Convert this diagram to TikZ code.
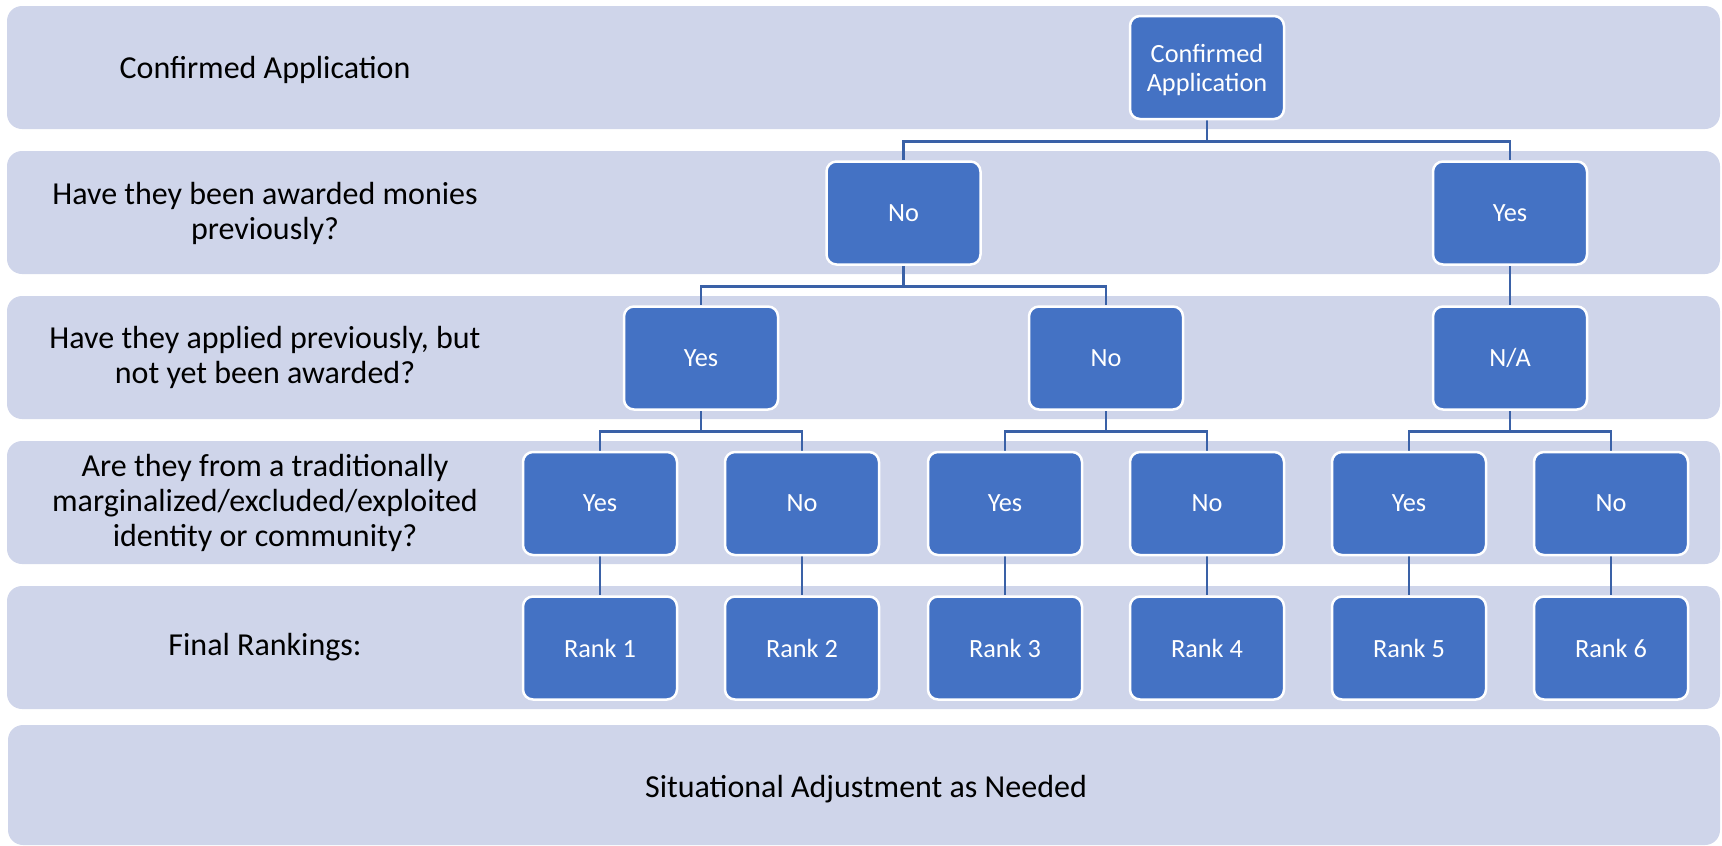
\documentclass[tikz,border=0pt]{standalone}
\usepackage{fontspec}
\setmainfont{Carlito}
\pgfdeclarelayer{back}
\pgfdeclarelayer{mid}
\pgfsetlayers{back,mid,main}
\definecolor{bandfill}{HTML}{CFD5EA}
\definecolor{boxfill}{HTML}{4472C4}
\definecolor{linkcol}{HTML}{3A61A7}
\tikzset{
  band/.style={fill=bandfill, rounded corners=15pt, draw=none},
  lbl/.style={font=\fontsize{32}{35}\selectfont, align=center, text=black},
  bbox/.style={fill=boxfill, draw=white, line width=2.5pt, rounded corners=10pt,
    minimum width=154pt, minimum height=103pt, inner sep=0pt,
    text=white, align=center, font=\fontsize{26.3}{28.8}\selectfont},
  link/.style={draw=linkcol, line width=2.6pt}
}
\begin{document}
\begin{tikzpicture}[x=1pt,y=-1pt]
\useasboundingbox (0,0) rectangle (1722,846);
% boxes
\node[bbox] (ca) at (1207,67.5) {\raisebox{-10pt}[0pt][0pt]{\begin{tabular}{@{}c@{}}Confirmed\\Application\end{tabular}}};
\node[bbox] (n2) at (903.5,213) {No};
\node[bbox] (y2) at (1510,213) {Yes};
\node[bbox] (y3) at (701,358) {Yes};
\node[bbox] (n3) at (1106,358) {No};
\node[bbox] (na3) at (1510,358) {N/A};
\node[bbox] (y4a) at (600,503.5) {Yes};
\node[bbox] (n4a) at (802,503.5) {No};
\node[bbox] (y4b) at (1005,503.5) {Yes};
\node[bbox] (n4b) at (1207,503.5) {No};
\node[bbox] (y4c) at (1409,503.5) {Yes};
\node[bbox] (n4c) at (1611,503.5) {No};
\node[bbox] (r1) at (600,648) {Rank 1};
\node[bbox] (r2) at (802,648) {Rank 2};
\node[bbox] (r3) at (1005,648) {Rank 3};
\node[bbox] (r4) at (1207,648) {Rank 4};
\node[bbox] (r5) at (1409,648) {Rank 5};
\node[bbox] (r6) at (1611,648) {Rank 6};
% labels
\node[lbl] (l1) at (265,70) {Confirmed Application};
\node[lbl] (l2) at (265,213) {Have they been awarded monies\\previously?};
\node[lbl] (l3) at (265,357.5) {Have they applied previously, but\\not yet been awarded?};
\node[lbl] (l4) at (265,502.5) {Are they from a traditionally\\marginalized/excluded/exploited\\identity or community?};
\node[lbl] (l5) at (265,647.5) {Final Rankings:};
\node[lbl] (l6) at (866,789) {Situational Adjustment as Needed};
\begin{pgfonlayer}{back}
\path[band] (7,6) rectangle (1720,129);
\path[band] (7,151) rectangle (1720,274);
\path[band] (7,296) rectangle (1720,419);
\path[band] (7,441) rectangle (1720,564);
\path[band] (7,586) rectangle (1720,709);
\path[band] (8,725) rectangle (1720,845);
\end{pgfonlayer}
\begin{pgfonlayer}{mid}
\draw[link] (ca.south) -- ++(0,21.5) -| (n2.north);
\draw[link] (ca.south) -- ++(0,21.5) -| (y2.north);
\draw[link] (n2.south) -- ++(0,21) -| (y3.north);
\draw[link] (n2.south) -- ++(0,21) -| (n3.north);
\draw[link] (y2.south) -- (na3.north);
\draw[link] (y3.south) -- ++(0,21) -| (y4a.north);
\draw[link] (y3.south) -- ++(0,21) -| (n4a.north);
\draw[link] (n3.south) -- ++(0,21) -| (y4b.north);
\draw[link] (n3.south) -- ++(0,21) -| (n4b.north);
\draw[link] (na3.south) -- ++(0,21) -| (y4c.north);
\draw[link] (na3.south) -- ++(0,21) -| (n4c.north);
\draw[link] (y4a.south) -- (r1.north);
\draw[link] (n4a.south) -- (r2.north);
\draw[link] (y4b.south) -- (r3.north);
\draw[link] (n4b.south) -- (r4.north);
\draw[link] (y4c.south) -- (r5.north);
\draw[link] (n4c.south) -- (r6.north);
\end{pgfonlayer}
\end{tikzpicture}
\end{document}
